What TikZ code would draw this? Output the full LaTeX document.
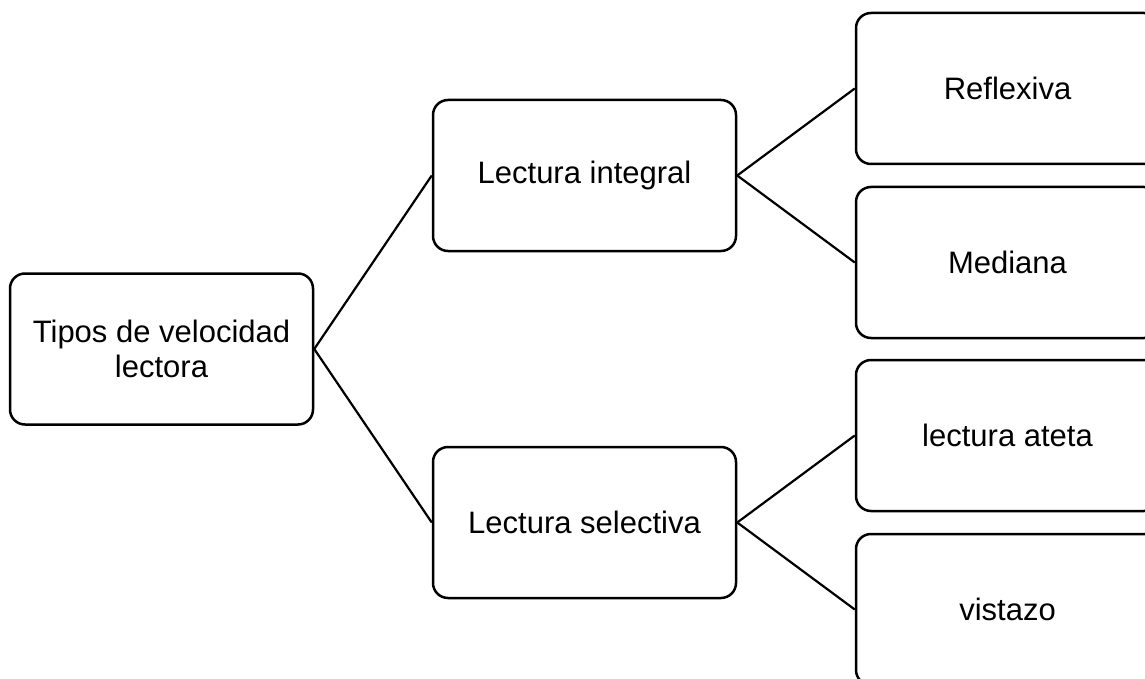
\documentclass[tikz,border=0pt]{standalone}
\usepackage{fontspec}
\setmainfont{Liberation Sans}
\begin{document}
\begin{tikzpicture}[x=1pt,y=-1pt,
  box/.style={draw=black, line width=2.5pt, rounded corners=15pt, fill=white,
    minimum width=303pt, minimum height=151pt, inner sep=0pt,
    align=center, font=\fontsize{31}{35}\selectfont},
  link/.style={draw=black, line width=2.2pt}]
\useasboundingbox (0,0) rectangle (1145,679);
% tree of nodes
\node[box] (root) at (161.5,349) {Tipos de velocidad\\lectora};
\node[box] (int)  at (584.5,175.5) {Lectura integral};
\node[box] (sel)  at (584.5,522.5) {Lectura selectiva};
\node[box] (ref)  at (1007.5,88.5) {Reflexiva};
\node[box] (med)  at (1007.5,262.5) {Mediana};
\node[box] (ate)  at (1007.5,435.5) {lectura ateta};
\node[box] (vis)  at (1007.5,609.5) {vistazo};
% connectors
\draw[link] (root.east) -- (int.west);
\draw[link] (root.east) -- (sel.west);
\draw[link] (int.east) -- (ref.west);
\draw[link] (int.east) -- (med.west);
\draw[link] (sel.east) -- (ate.west);
\draw[link] (sel.east) -- (vis.west);
\end{tikzpicture}
\end{document}
